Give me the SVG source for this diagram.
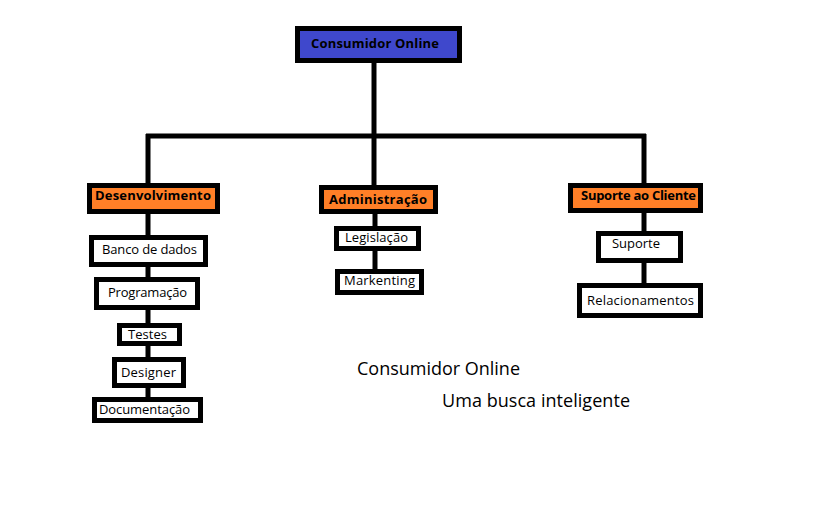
<svg xmlns="http://www.w3.org/2000/svg" width="824" height="510" viewBox="0 0 824 510">
<style>
.box{stroke:#000;stroke-width:5;fill:#fff}
.blue{fill:#3F48CC}
.orange{fill:#FF7F27}
.t{font-family:"Open Sans","Noto Sans",sans-serif;font-size:13px;fill:#000}
.b{font-weight:bold}
.big{font-family:"Open Sans","Noto Sans",sans-serif;font-size:18px;fill:#000}
.ln{stroke:#000;stroke-width:5;fill:none}
</style>
<rect width="824" height="510" fill="#fff"/>
<g id="connectors">
<line class="ln" x1="374" y1="62" x2="374" y2="187"/>
<line class="ln" x1="146" y1="136" x2="646" y2="136"/>
<line class="ln" x1="148" y1="134" x2="148" y2="185"/>
<line class="ln" x1="644" y1="134" x2="644" y2="185"/>
<line class="ln" x1="148" y1="212" x2="148" y2="400"/>
<line class="ln" x1="375" y1="212" x2="375" y2="272"/>
<line class="ln" x1="644" y1="212" x2="644" y2="286"/>
</g>
<g id="n-root"><rect class="box blue" x="297.5" y="28.5" width="162" height="32"/><text class="t b" x="311" y="48" textLength="128">Consumidor Online</text></g>
<g id="n-dev"><rect class="box orange" x="89.5" y="185.5" width="128" height="26"/><text class="t b" x="95" y="200" textLength="116">Desenvolvimento</text></g>
<g id="n-banco"><rect class="box" x="91.5" y="237.5" width="114" height="27"/><text class="t" x="102" y="254" textLength="95">Banco de dados</text></g>
<g id="n-prog"><rect class="box" x="96.5" y="279.5" width="101" height="28"/><text class="t" x="108" y="297" textLength="79">Programação</text></g>
<g id="n-testes"><rect class="box" x="119.5" y="325.5" width="60" height="18"/><text class="t" x="128" y="339" textLength="39">Testes</text></g>
<g id="n-designer"><rect class="box" x="114.5" y="359.5" width="69" height="26"/><text class="t" x="121" y="377" textLength="55">Designer</text></g>
<g id="n-doc"><rect class="box" x="94.5" y="399.5" width="106" height="21"/><text class="t" x="99" y="414" textLength="91">Documentação</text></g>
<g id="n-admin"><rect class="box orange" x="321.5" y="187.5" width="114" height="24"/><text class="t b" x="329" y="204" textLength="98">Administração</text></g>
<g id="n-leg"><rect class="box" x="336.5" y="228.5" width="82" height="20"/><text class="t" x="345" y="242" textLength="63">Legislação</text></g>
<g id="n-mark"><rect class="box" x="337.5" y="271.5" width="84" height="21"/><text class="t" x="344" y="285" textLength="71">Markenting</text></g>
<g id="n-sup-cli"><rect class="box orange" x="570.5" y="185.5" width="130" height="25"/><text class="t b" x="581" y="200" textLength="115">Suporte ao Cliente</text></g>
<g id="n-suporte"><rect class="box" x="598.5" y="233.5" width="82" height="27"/><text class="t" x="612" y="248" textLength="48">Suporte</text></g>
<g id="n-rel"><rect class="box" x="579.5" y="285.5" width="121" height="30"/><text class="t" x="587" y="305" textLength="107">Relacionamentos</text></g>
<text class="big" x="357" y="375" textLength="163">Consumidor Online</text>
<text class="big" x="442" y="407" textLength="188">Uma busca inteligente</text>
</svg>
